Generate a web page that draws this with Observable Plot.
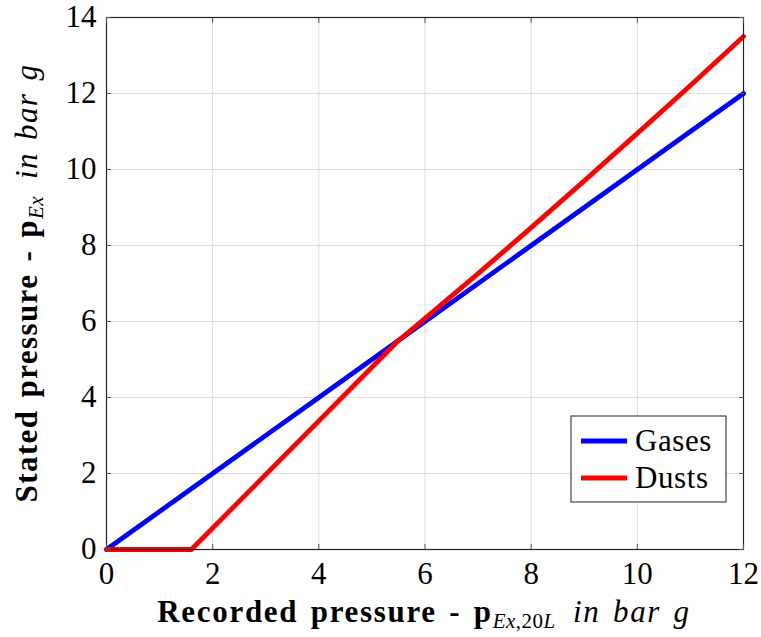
<!DOCTYPE html>
<html><head><meta charset="utf-8">
<script src="https://cdn.jsdelivr.net/npm/d3@7"></script>
<script src="https://cdn.jsdelivr.net/npm/@observablehq/plot@0.6"></script>
<style>
body{margin:0;background:#fff}
svg text{font-family:"Liberation Serif" !important;}
</style>
</head><body><div id="chart"></div>
<script>
const xTicks = [0, 2, 4, 6, 8, 10, 12];
const yTicks = [0, 2, 4, 6, 8, 10, 12, 14];
const gasesX = [0, 2, 4, 6, 8, 10, 12];
const gasesY = [0, 2, 4, 6, 8, 10, 12];
const dustsX = [0, 1.6, 5.5, 6, 7, 8, 9, 10, 11, 12];
const dustsY = [0, 0, 5.5, 6.08, 7.26, 8.47, 9.70, 10.95, 12.21, 13.50];
const seriesNames = ["Gases", "Dusts"];
const seriesColors = ["#0000ff", "#ff0000"];

const gases = gasesX.map((x, i) => ({x, y: gasesY[i], s: "Gases"}));
const dusts = dustsX.map((x, i) => ({x, y: dustsY[i], s: "Dusts"}));

const FONT = "Liberation Serif";
const tickStroke = "#555";

const plot = Plot.plot({
  width: 761, height: 637,
  marginLeft: 106, marginRight: 18, marginTop: 17, marginBottom: 88,
  x: {domain: [0, 12], ticks: xTicks},
  y: {domain: [0, 14], ticks: yTicks},
  style: `font-family: ${FONT}; font-size: 31px; color: #000; background: #fff; overflow: visible;`,
  marks: [
    Plot.gridX(xTicks, {stroke: "#dcdcdc", strokeOpacity: 1}),
    Plot.gridY(yTicks, {stroke: "#dcdcdc", strokeOpacity: 1}),
    Plot.line(gases, {x: "x", y: "y", stroke: seriesColors[0], strokeWidth: 4.8}),
    Plot.line(dusts, {x: "x", y: "y", stroke: seriesColors[1], strokeWidth: 4.8}),
    Plot.frame({stroke: "#222", strokeWidth: 1.2}),
    Plot.axisX(xTicks, {anchor: "bottom", tickSize: 0, tickPadding: 12, label: null, fontSize: 31}),
    Plot.axisY(yTicks, {anchor: "left", tickSize: 0, tickPadding: 10, label: null, fontSize: 31}),
    Plot.axisX(xTicks, {anchor: "bottom", tickSize: -5, tickFormat: () => "", label: null, stroke: tickStroke}),
    Plot.axisX(xTicks, {anchor: "top", tickSize: -5, tickFormat: () => "", label: null, stroke: tickStroke}),
    Plot.axisY(yTicks, {anchor: "left", tickSize: -5, tickFormat: () => "", label: null, stroke: tickStroke}),
    Plot.axisY(yTicks, {anchor: "right", tickSize: -5, tickFormat: () => "", label: null, stroke: tickStroke})
  ]
});
document.getElementById("chart").appendChild(plot);

const svg = d3.select(plot);

function addSub(t, parts) {
  parts.forEach(([s, it], i) => {
    const ts = t.append("tspan").attr("font-size", 21).attr("font-style", it ? "italic" : "normal")
      .attr("letter-spacing", "0.5px").text(s);
    if (i === 0) ts.attr("dy", 6);
  });
}

// X axis label
const xl = svg.append("text")
  .attr("x", 424).attr("y", 622)
  .attr("text-anchor", "middle")
  .attr("font-family", FONT).attr("font-size", 31).attr("fill", "#000");
xl.append("tspan").attr("font-weight", "bold").attr("letter-spacing", "1.7px").attr("word-spacing", "3px").text("Recorded pressure - p");
addSub(xl, [["Ex", true], [",20", false], ["L", true]]);
xl.append("tspan").attr("font-style", "italic").attr("dy", -6).attr("letter-spacing", "1.7px").attr("word-spacing", "3px").text("\u2002in bar g");

// Y axis label
const yl = svg.append("text")
  .attr("transform", "translate(37,283) rotate(-90)")
  .attr("text-anchor", "middle")
  .attr("font-family", FONT).attr("font-size", 31).attr("fill", "#000");
yl.append("tspan").attr("font-weight", "bold").attr("letter-spacing", "1.4px").attr("word-spacing", "3px").text("Stated pressure - p");
addSub(yl, [["Ex", true]]);
yl.append("tspan").attr("font-style", "italic").attr("dy", -6).attr("letter-spacing", "1.4px").attr("word-spacing", "3px").text("\u2002in bar g");

// Legend
const lg = svg.append("g");
lg.append("rect").attr("x", 571).attr("y", 416).attr("width", 155).attr("height", 86)
  .attr("fill", "#fff").attr("stroke", "#444").attr("stroke-width", 1.2);
seriesNames.forEach((name, i) => {
  const cy = 441 + i * 37;
  lg.append("line").attr("x1", 581).attr("x2", 627).attr("y1", cy).attr("y2", cy)
    .attr("stroke", seriesColors[i]).attr("stroke-width", 4.8);
  lg.append("text").attr("x", 635).attr("y", cy + 10).attr("text-anchor", "start")
    .attr("letter-spacing", "0.6px")
    .attr("font-family", FONT).attr("font-size", 31).attr("fill", "#000").text(name);
});
</script>
</body></html>
